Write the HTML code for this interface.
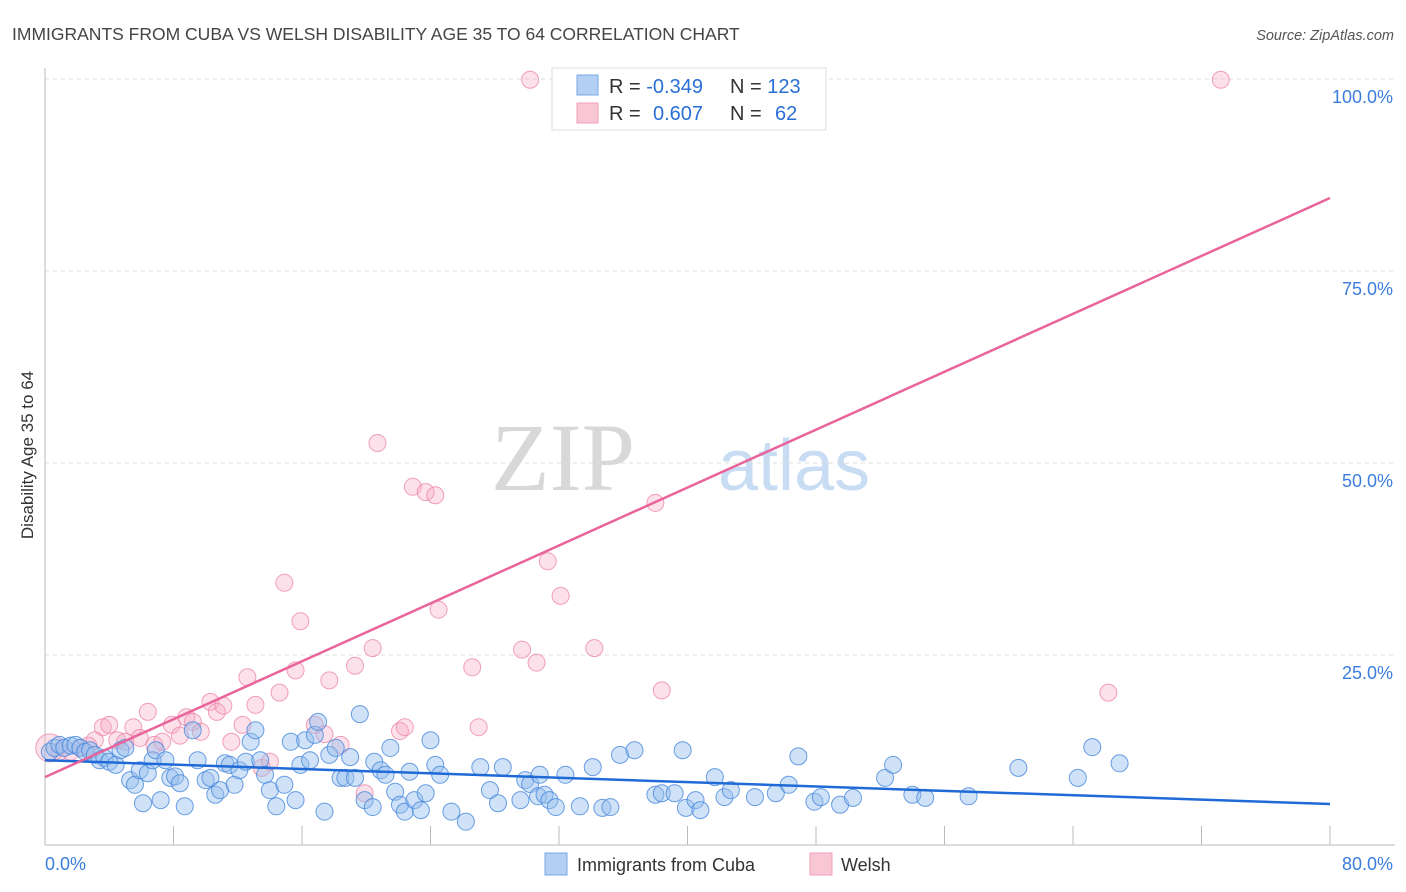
<!DOCTYPE html>
<html><head><meta charset="utf-8"><style>
body{margin:0;background:#fff;font-family:"Liberation Sans",sans-serif;}
svg{display:block}
</style></head><body>
<svg id="chart" width="1406" height="892" xmlns="http://www.w3.org/2000/svg">
<text x="12" y="40" font-size="17.5" fill="#444">IMMIGRANTS FROM CUBA VS WELSH DISABILITY AGE 35 TO 64 CORRELATION CHART</text>
<text x="1394" y="40" font-size="14.5" fill="#555" font-style="italic" text-anchor="end">Source: ZipAtlas.com</text>
<g>
<text x="635" y="490" font-size="96" fill="#d8d8d8" text-anchor="end" font-family="Liberation Serif, serif">ZIP</text>
<text x="718" y="490" font-size="72" fill="#c8dcf3">atlas</text>
</g>
<g id="grid"></g>
<g id="axes"></g>
<g id="pinkDots"></g>
<g id="blueDots"></g>
<g id="trends"></g>
<g>
<rect x="552" y="68" width="274" height="62" fill="#fff" stroke="#ddd"/>
<rect x="577" y="75" width="21" height="20" fill="#b3cff3" stroke="#7aa8e6"/>
<rect x="577" y="103" width="21" height="20" fill="#f8c6d4" stroke="#f0a0b8"/>
<text x="609" y="93" font-size="20" fill="#333">R = <tspan fill="#2a6fd6">-0.349</tspan></text>
<text x="730" y="93" font-size="20" fill="#333">N = <tspan fill="#2a6fd6">123</tspan></text>
<text x="609" y="120" font-size="20" fill="#333">R = <tspan fill="#2a6fd6" x="653">0.607</tspan></text>
<text x="730" y="120" font-size="20" fill="#333">N = <tspan fill="#2a6fd6" x="775">62</tspan></text>
</g>
<g>
<rect x="545" y="853" width="22" height="22" fill="#b3cff3" stroke="#7aa8e6"/>
<text x="577" y="871" font-size="18" fill="#333">Immigrants from Cuba</text>
<rect x="810" y="853" width="22" height="22" fill="#f8c6d4" stroke="#f0a0b8"/>
<text x="841" y="871" font-size="18" fill="#333">Welsh</text>
</g>
<text transform="translate(33,455) rotate(-90)" font-size="17" fill="#333" text-anchor="middle">Disability Age 35 to 64</text>
</svg>
<script>
const blueX=[0.3,0.6,0.9,1.2,1.6,1.9,2.2,2.5,2.8,3.1,3.4,3.7,4.0,4.4,4.7,5.0,5.3,5.6,5.9,6.1,6.4,6.7,6.9,7.2,7.5,7.8,8.1,8.4,8.7,9.2,9.5,10.0,10.3,10.6,10.9,11.2,11.5,11.8,12.1,12.5,12.8,13.1,13.4,13.7,14.0,14.4,14.9,15.3,15.6,15.9,16.2,16.5,16.8,17.0,17.4,17.7,18.1,18.4,18.7,19.0,19.3,19.6,19.9,20.4,20.5,20.9,21.2,21.5,21.8,22.1,22.4,22.7,23.0,23.4,23.7,24.0,24.3,24.6,25.3,26.2,27.1,27.7,28.2,28.5,29.6,29.9,30.2,30.7,30.8,31.1,31.4,31.8,32.4,33.3,34.1,34.7,35.2,35.8,36.7,38.0,38.4,39.2,39.7,39.9,40.5,40.8,41.7,42.3,42.7,44.2,45.5,46.3,46.9,47.9,48.3,49.5,50.3,52.3,52.8,54.0,54.8,57.5,60.6,64.3,65.2,66.9];
const blueY=[12.4,12.9,13.3,12.9,13.2,13.3,12.9,12.4,12.6,12.0,11.3,11.6,11.1,10.7,12.6,12.9,8.7,8.1,10.0,5.7,9.6,11.3,12.6,6.1,11.3,9.0,9.2,8.3,5.3,15.2,11.3,8.7,9.0,6.8,7.4,10.9,10.7,8.1,10.0,11.1,13.7,15.2,11.3,9.4,7.4,5.3,8.1,13.7,6.1,10.7,13.9,11.3,14.6,16.3,4.6,12.0,12.9,9.0,9.0,11.7,9.0,17.3,6.1,5.2,11.1,10.0,9.4,12.9,7.2,5.5,4.6,9.8,6.1,4.8,7.0,13.9,10.7,9.4,4.6,3.3,10.4,7.4,5.7,10.4,6.1,8.7,8.2,6.6,9.4,6.8,6.1,5.2,9.4,5.3,10.4,5.1,5.2,12.0,12.6,6.8,7.0,7.0,12.6,5.1,6.1,4.8,9.1,6.5,7.4,6.5,7.0,8.1,11.8,5.9,6.5,5.5,6.4,9.0,10.7,6.8,6.4,6.6,10.3,9.0,13.0,10.9];
const pinkX=[0.3,0.9,1.6,2.2,2.7,3.1,3.6,4.0,4.5,5.0,5.5,5.9,6.4,6.8,7.3,7.9,8.4,8.8,9.2,9.7,10.3,10.7,11.1,11.6,12.3,12.6,13.1,13.5,14.0,14.6,14.9,15.6,15.9,16.8,17.4,17.7,18.4,19.3,19.9,20.4,20.7,22.1,22.4,22.9,23.7,24.3,24.5,26.6,27.0,29.7,30.2,30.6,31.3,32.1,34.2,36.3,38.0,38.4,66.2,73.2];
const pinkY=[12.9,12.4,12.4,12.9,13.2,13.9,15.6,15.9,13.9,13.7,15.6,14.2,17.6,13.3,13.7,15.9,14.5,16.9,16.3,15.0,18.9,17.6,18.4,13.7,15.9,22.1,18.5,10.3,11.1,20.1,34.4,23.0,29.4,15.9,14.7,21.7,13.3,23.6,7.0,25.9,52.6,15.1,15.6,46.9,46.2,45.8,30.9,23.4,15.6,25.7,99.9,24.0,37.2,32.7,25.9,99.9,44.8,20.4,20.1,99.9];
const blueTrend=[11.3,5.6];
const pinkTrend=[9.1,84.5];
const yTicks=[25,50,75,100];
const yTickLabels=["25.0%","50.0%","75.0%","100.0%"];
const xTicks=[8,16,24,32,40,48,56,64,72,80];

const NS="http://www.w3.org/2000/svg";
const X0=45,X1=1330,Y0=847,Y100=79;
const sx=v=>X0+(X1-X0)*v/80;
const sy=v=>Y0-(Y0-Y100)*v/100;
function mk(tag,attrs,parent){const e=document.createElementNS(NS,tag);for(const k in attrs)e.setAttribute(k,attrs[k]);parent.appendChild(e);return e;}
const grid=document.getElementById('grid'),axes=document.getElementById('axes');
yTicks.forEach((t,i)=>{
  const l=mk('line',{x1:X0,x2:1395,y1:sy(t),y2:sy(t),stroke:'#ddd','stroke-dasharray':'4,4'},grid);
  
  
  const tx=mk('text',{x:1393,y:sy(t)+24,'font-size':18,fill:'#3b7ddd','text-anchor':'end'},axes);
  tx.textContent=yTickLabels[i];
  
  
});
const ya=mk('line',{x1:X0,x2:X0,y1:68,y2:845,stroke:'#bbb'},axes);


const xa=mk('line',{x1:X0,x2:1395,y1:845,y2:845,stroke:'#bbb'},axes);


xTicks.forEach(t=>{
  const l=mk('line',{x1:sx(t),x2:sx(t),y1:826,y2:845,stroke:'#bbb'},axes);
  
  
});
const xl0=mk('text',{x:45,y:870,'font-size':18,fill:'#3b7ddd'},axes);
xl0.textContent='0.0%';


const xl1=mk('text',{x:1393,y:870,'font-size':18,fill:'#3b7ddd','text-anchor':'end'},axes);
xl1.textContent='80.0%';



const pg=document.getElementById('pinkDots');
pinkX.forEach((x,i)=>{
  const c=mk('circle',{cx:sx(x),cy:sy(pinkY[i]),r:i===0?14:8.5,fill:'rgba(246,170,195,0.35)',stroke:'rgba(236,130,165,0.75)','stroke-width':1},pg);
  
  
});
const bg=document.getElementById('blueDots');
blueX.forEach((x,i)=>{
  const c=mk('circle',{cx:sx(x),cy:sy(blueY[i]),r:8.5,fill:'rgba(150,190,238,0.45)',stroke:'rgba(70,135,220,0.8)','stroke-width':1},bg);
  
  
});
const tg=document.getElementById('trends');
const bt=mk('line',{x1:sx(0),y1:sy(blueTrend[0]),x2:sx(80),y2:sy(blueTrend[1]),stroke:'#1f6ad6','stroke-width':2.5},tg);


const pt=mk('line',{x1:sx(0),y1:sy(pinkTrend[0]),x2:sx(80),y2:sy(pinkTrend[1]),stroke:'#e8649a','stroke-width':2.5},tg);


</script>
</body></html>
